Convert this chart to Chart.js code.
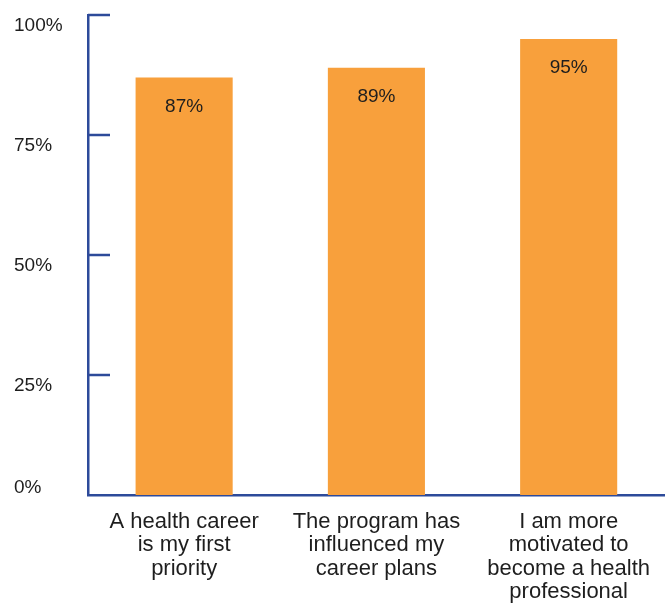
<!DOCTYPE html>
<html>
<head>
<meta charset="utf-8">
<script src="https://cdn.jsdelivr.net/npm/chart.js@4"></script>
<style>
  html, body { margin: 0; padding: 0; background: #ffffff; }
  #wrap { width: 665px; height: 603px; position: relative; }
</style>
</head>
<body>
<div id="wrap"><canvas id="c"></canvas></div>
<script>
const categories = [
  ['A health career', 'is my first', 'priority'],
  ['The program has', 'influenced my', 'career plans'],
  ['I am more', 'motivated to', 'become a health', 'professional']
];
const values = [87, 89, 95];
const yTickValues = [0, 25, 50, 75, 100];
const yTickLabels = ['0%', '25%', '50%', '75%', '100%'];

const AXIS_BLUE = '#2d4a9a';
const BAR_ORANGE = '#f8a03c';
const TEXT = '#1e1e1e';
const FONT = '"Liberation Sans", Arial, sans-serif';

const customDraw = {
  id: 'customDraw',
  afterDraw(chart) {
    const ctx = chart.ctx;
    const y = chart.scales.y;
    const area = chart.chartArea;
    ctx.save();
    ctx.strokeStyle = AXIS_BLUE;
    ctx.lineWidth = 2.5;
    ctx.fillStyle = TEXT;
    ctx.font = '19px ' + FONT;
    ctx.textAlign = 'left';
    ctx.textBaseline = 'middle';
    yTickValues.forEach((v, i) => {
      const py = y.getPixelForValue(v);
      if (v !== 0) {
        ctx.beginPath();
        ctx.moveTo(area.left, py);
        ctx.lineTo(area.left + 22, py);
        ctx.stroke();
      }
      const off = v === 0 ? -7 : 10.5;
      ctx.fillText(yTickLabels[i], 14, py + off);
    });
    ctx.font = '19px ' + FONT;
    ctx.textAlign = 'center';
    const meta = chart.getDatasetMeta(0);
    meta.data.forEach((bar, i) => {
      ctx.fillText(values[i] + '%', bar.x, bar.y + 29);
    });
    ctx.restore();
  }
};

new Chart(document.getElementById('c'), {
  type: 'bar',
  data: {
    labels: categories,
    datasets: [{
      data: values,
      backgroundColor: BAR_ORANGE,
      borderWidth: 0,
      barPercentage: 0.505,
      categoryPercentage: 1.0
    }]
  },
  options: {
    responsive: true,
    maintainAspectRatio: false,
    animation: false,
    layout: { padding: { left: 88, right: 0, top: 15, bottom: 0 } },
    plugins: { legend: { display: false }, tooltip: { enabled: false } },
    scales: {
      x: {
        afterFit(scale) { scale.height = 108; },
        grid: { display: false, drawTicks: false },
        border: { display: true, color: AXIS_BLUE, width: 2.5 },
        ticks: {
          color: TEXT,
          font: { family: FONT, size: 22, lineHeight: 1.064 },
          padding: 15,
          maxRotation: 0,
          minRotation: 0,
          autoSkip: false
        }
      },
      y: {
        min: 0,
        max: 100,
        grid: { display: false, drawTicks: false },
        border: { display: true, color: AXIS_BLUE, width: 2.5 },
        ticks: { display: false, stepSize: 25 }
      }
    }
  },
  plugins: [customDraw]
});
</script>
</body>
</html>
